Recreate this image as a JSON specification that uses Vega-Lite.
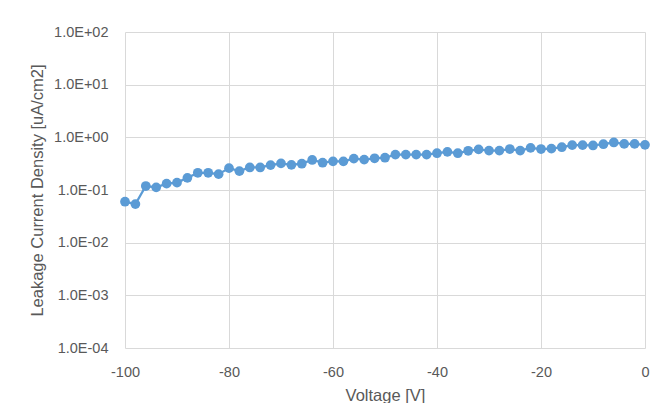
{
  "$schema": "https://vega.github.io/schema/vega-lite/v6.json",
  "autosize": "none",
  "width": 520,
  "height": 316,
  "padding": {"left": 125, "top": 32, "right": 18, "bottom": 55},
  "background": "white",
  "config": {
    "view": {"stroke": null},
    "font": "Liberation Sans",
    "axis": {
      "labelColor": "#595959",
      "titleColor": "#595959",
      "labelFont": "Liberation Sans",
      "titleFont": "Liberation Sans",
      "labelFontSize": 14.5,
      "titleFontSize": 16.5,
      "titleFontWeight": "normal",
      "gridColor": "#d9d9d9",
      "gridWidth": 1,
      "domain": false,
      "ticks": false,
      "labelFlush": false
    }
  },
  "data": {
    "values": [
      {"v": -100, "j": 0.060}, {"v": -98, "j": 0.054}, {"v": -96, "j": 0.119},
      {"v": -94, "j": 0.112}, {"v": -92, "j": 0.132}, {"v": -90, "j": 0.138},
      {"v": -88, "j": 0.170}, {"v": -86, "j": 0.212}, {"v": -84, "j": 0.212},
      {"v": -82, "j": 0.200}, {"v": -80, "j": 0.260}, {"v": -78, "j": 0.228},
      {"v": -76, "j": 0.268}, {"v": -74, "j": 0.268}, {"v": -72, "j": 0.297},
      {"v": -70, "j": 0.320}, {"v": -68, "j": 0.300}, {"v": -66, "j": 0.316},
      {"v": -64, "j": 0.372}, {"v": -62, "j": 0.330}, {"v": -60, "j": 0.350},
      {"v": -58, "j": 0.350}, {"v": -56, "j": 0.395}, {"v": -54, "j": 0.378},
      {"v": -52, "j": 0.400}, {"v": -50, "j": 0.410}, {"v": -48, "j": 0.470},
      {"v": -46, "j": 0.470}, {"v": -44, "j": 0.470}, {"v": -42, "j": 0.470},
      {"v": -40, "j": 0.500}, {"v": -38, "j": 0.530}, {"v": -36, "j": 0.500},
      {"v": -34, "j": 0.555}, {"v": -32, "j": 0.590}, {"v": -30, "j": 0.560},
      {"v": -28, "j": 0.560}, {"v": -26, "j": 0.600}, {"v": -24, "j": 0.560},
      {"v": -22, "j": 0.630}, {"v": -20, "j": 0.600}, {"v": -18, "j": 0.610},
      {"v": -16, "j": 0.650}, {"v": -14, "j": 0.710}, {"v": -12, "j": 0.710},
      {"v": -10, "j": 0.700}, {"v": -8, "j": 0.740}, {"v": -6, "j": 0.800},
      {"v": -4, "j": 0.750}, {"v": -2, "j": 0.750}, {"v": 0, "j": 0.720}
    ]
  },
  "encoding": {
    "x": {
      "field": "v", "type": "quantitative",
      "scale": {"domain": [-100, 0], "nice": false, "zero": false},
      "axis": {
        "title": "Voltage [V]",
        "values": [-100, -80, -60, -40, -20, 0],
        "labelExpr": "'' + datum.value",
        "labelPadding": 17,
        "titlePadding": 9
      }
    },
    "y": {
      "field": "j", "type": "quantitative",
      "scale": {"type": "log", "domain": [0.0001, 100], "nice": false},
      "axis": {
        "title": "Leakage Current Density [uA/cm2]",
        "values": [0.0001, 0.001, 0.01, 0.1, 1, 10, 100],
        "labelExpr": "'1.0E' + (datum.value >= 1 ? '+' : '-') + '0' + abs(round(log(datum.value) / LN10))",
        "labelPadding": 17,
        "titlePadding": 8
      }
    }
  },
  "layer": [
    {"mark": {"type": "line", "color": "#5B9BD5", "strokeWidth": 2.25}},
    {"mark": {"type": "point", "filled": true, "shape": "circle", "size": 95, "color": "#5B9BD5", "opacity": 1}}
  ]
}
